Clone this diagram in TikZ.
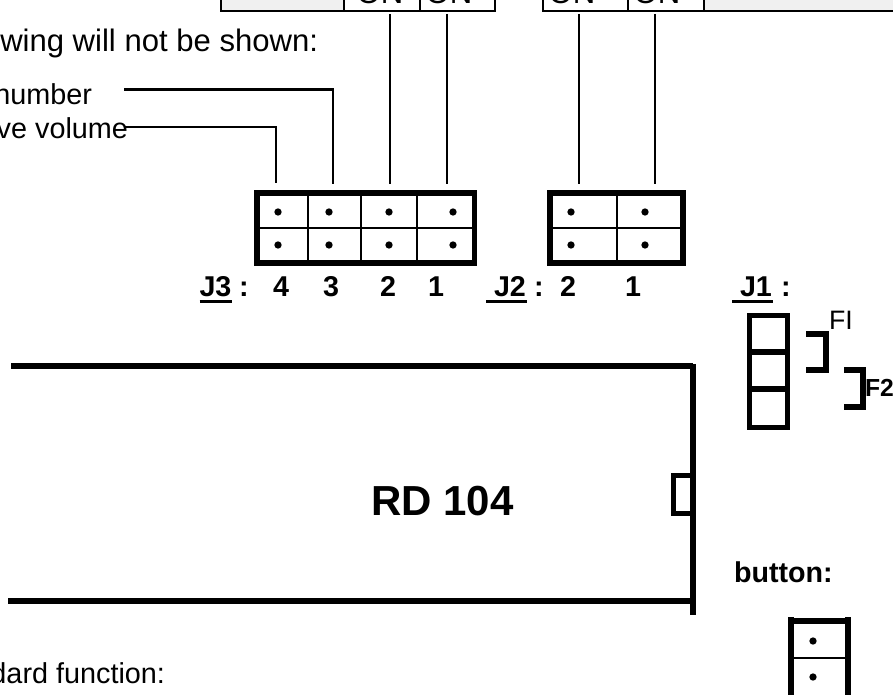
\documentclass[tikz,border=0pt]{standalone}
\usepackage{fontspec}
\setmainfont{Liberation Sans}
\tikzset{
  x=0.75pt,y=-0.75pt,
  reg/.style={inner sep=0pt,outer sep=0pt,font=\fontsize{21.6}{24}\selectfont,text=black},
  bigreg/.style={inner sep=0pt,outer sep=0pt,font=\fontsize{23.3}{25}\selectfont,text=black},
  bld/.style={inner sep=0pt,outer sep=0pt,font=\fontsize{21.5}{24}\selectfont\bfseries,text=black},
  thick box/.style={draw=black,line width=4.2pt},
  thin div/.style={draw=black,line width=1.3pt},
  heavy/.style={draw=black,line width=3.9pt},
  leader/.style={draw=black,line width=1.7pt},
  table line/.style={draw=black,line width=1.5pt},
  uline/.style={draw=black,line width=2.3pt},
  pin/.style={circle,fill=black,inner sep=0pt,minimum size=5.5pt},
  graycell/.style={fill=black!6,draw=none}
}
\begin{document}
\begin{tikzpicture}
\path[use as bounding box,clip] (0,0) rectangle (893,695);
% top table
\fill[graycell] (222,0) rectangle (344,10);
\fill[graycell] (705,0) rectangle (893,10);
\draw[table line] (221,11) -- (495,11);
\draw[table line] (543,11) -- (893,11);
\foreach \x in {221,344,420,495,543,628,704}{\draw[table line] (\x,0) -- (\x,12.5);}
\node[bigreg,anchor=base] (on1) at (380,4) {ON};
\node[bigreg,anchor=base] (on2) at (449,4) {ON};
\node[bigreg,anchor=base] (on3) at (572,4) {ON};
\node[bigreg,anchor=base] (on4) at (657,4) {ON};
% texts
\node[bigreg,anchor=base east] (t1) at (318,52) {wing will not be shown:};
\node[reg,anchor=base east] (t2) at (92,105) {number};
\node[reg,anchor=base east] (t3) at (128,139) {ve volume};
\node[reg,anchor=base east] (t4) at (165,683) {dard function:};
% J3
\draw[thin div] (257,228) -- (474,228);
\foreach \x in {308,361,417}{\draw[thin div] (\x,193) -- (\x,263);}
\draw[thick box] (257,193) rectangle (474.5,263);
\foreach \x/\n in {278/a,329/b,389/c,453/d}{
  \node[pin] (j3\n1) at (\x,212) {};
  \node[pin] (j3\n2) at (\x,245) {};
}
% J2
\draw[thin div] (550,228) -- (683,228);
\draw[thin div] (617,193) -- (617,263);
\draw[thick box] (550,193) rectangle (683,263);
\foreach \x/\n in {571/a,645/b}{
  \node[pin] (j2\n1) at (\x,212) {};
  \node[pin] (j2\n2) at (\x,245) {};
}
% connectors
\coordinate (a1) at (390,14); \coordinate (a2) at (390,184);
\coordinate (b1) at (447,14); \coordinate (b2) at (447,184);
\coordinate (c1) at (579,14); \coordinate (c2) at (579,184);
\coordinate (d1) at (655,14); \coordinate (d2) at (655,184);
\coordinate (n1) at (124,89.5); \coordinate (n2) at (333,89.5); \coordinate (n3) at (333,184);
\coordinate (v1) at (125,126.7); \coordinate (v2) at (276,126.7); \coordinate (v3) at (276,183);
\draw[leader] (a1) -- (a2);
\draw[leader] (b1) -- (b2);
\draw[leader] (c1) -- (c2);
\draw[leader] (d1) -- (d2);
\draw[leader] (n1) -- (n2) -- (n3);
\draw[leader] (v1) -- (v2) -- (v3);
% labels
\node[bld,anchor=base west] (j3) at (199.5,297) {J3};
\draw[uline] (199.5,301.5) -- (232,301.5);
\node[bld,anchor=base] (j3c) at (244,297) {:};
\node[bld,anchor=base] (l4) at (281,297) {4};
\node[bld,anchor=base] (l3) at (331,297) {3};
\node[bld,anchor=base] (l2) at (388,297) {2};
\node[bld,anchor=base] (l1) at (436,297) {1};
\node[bld,anchor=base west] (j2) at (494,297) {J2};
\draw[uline] (486,301.5) -- (527,301.5);
\node[bld,anchor=base] (j2c) at (539,297) {:};
\node[bld,anchor=base] (m2) at (568,297) {2};
\node[bld,anchor=base] (m1) at (633,297) {1};
\node[bld,anchor=base west] (j1) at (740,297) {J1};
\draw[uline] (732,301.5) -- (773,301.5);
\node[bld,anchor=base] (j1c) at (786,297) {:};
% J1 block
\draw[heavy] (749.5,315.5) rectangle (787.5,427.5);
\draw[heavy] (749.5,352) -- (787.5,352);
\draw[heavy] (749.5,389) -- (787.5,389);
\draw[heavy] (806,334) -- (826,334) -- (826,370) -- (806,370);
\draw[heavy] (844,370) -- (863,370) -- (863,407) -- (844,407);
\node[reg,anchor=base west,font=\fontsize{20}{22}\selectfont] (fi) at (829,330) {FI};
\node[bld,anchor=base west,font=\fontsize{18.5}{20}\selectfont\bfseries] (f2) at (865,397) {F2};
% main box
\draw[draw=black,line width=4.2pt] (11,366) -- (693,366);
\draw[draw=black,line width=4.2pt] (8,601) -- (693,601);
\draw[heavy] (693,364) -- (693,615);
\draw[heavy] (693,475.5) -- (673.5,475.5) -- (673.5,513.5) -- (693,513.5);
\node[inner sep=0pt,font=\fontsize{31.5}{34}\selectfont\bfseries,anchor=base] (rd) at (442.5,515) {RD 104};
% button
\node[bld,anchor=base west] (btn) at (734,582) {button:};
\draw[heavy] (791,617) -- (791,695);
\draw[heavy] (848,617) -- (848,695);
\draw[heavy] (788,621) -- (851,621);
\draw[thin div] (791,658) -- (848,658);
\node[pin] (b1p) at (813,641) {};
\node[pin] (b2p) at (813,677) {};
\end{tikzpicture}
\end{document}
